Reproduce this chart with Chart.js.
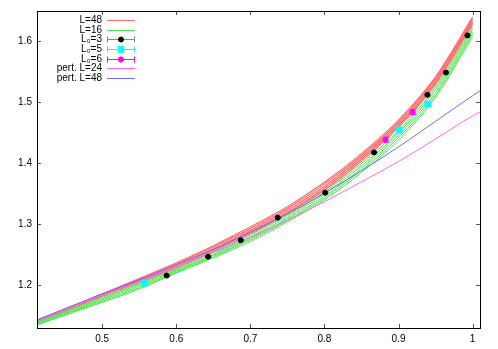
<!DOCTYPE html>
<html><head><meta charset="utf-8">
<script src="https://cdn.jsdelivr.net/npm/chart.js@4.4.1/dist/chart.umd.min.js"></script>
<style>html,body{margin:0;padding:0;background:#fff}canvas{display:block}</style>
</head><body>
<canvas id="c" width="498" height="349"></canvas>
<script>
// ---- data ----
const xGrid = [0.412, 0.45, 0.5, 0.55, 0.6, 0.65, 0.7, 0.75, 0.8, 0.85, 0.9, 0.95, 1.0];
// L=48 band (several curves)
const l48a = [1.143, 1.161, 1.186, 1.211, 1.237, 1.265, 1.296, 1.329, 1.369, 1.416, 1.471, 1.542, 1.640];
const l48b = [1.1425, 1.1605, 1.185, 1.2095, 1.235, 1.263, 1.293, 1.326, 1.366, 1.413, 1.468, 1.539, 1.637];
const l48c = [1.142, 1.160, 1.184, 1.208, 1.233, 1.260, 1.290, 1.323, 1.362, 1.410, 1.465, 1.536, 1.634];
const l48d = [1.1415, 1.159, 1.183, 1.2065, 1.231, 1.258, 1.288, 1.320, 1.359, 1.407, 1.462, 1.533, 1.631];
const l48e = [1.141, 1.158, 1.182, 1.205, 1.229, 1.256, 1.285, 1.318, 1.356, 1.404, 1.459, 1.530, 1.628];
// L=16 band (several curves)
const l16a = [1.140, 1.157, 1.180, 1.203, 1.227, 1.254, 1.283, 1.315, 1.353, 1.400, 1.454, 1.525, 1.624];
const l16b = [1.139, 1.1555, 1.178, 1.201, 1.225, 1.251, 1.280, 1.312, 1.350, 1.396, 1.450, 1.521, 1.620];
const l16c = [1.1375, 1.154, 1.176, 1.1985, 1.2235, 1.249, 1.277, 1.309, 1.346, 1.392, 1.446, 1.516, 1.616];
const l16d = [1.136, 1.1525, 1.174, 1.196, 1.2215, 1.247, 1.275, 1.3065, 1.343, 1.3885, 1.442, 1.512, 1.612];
const l16e = [1.135, 1.151, 1.172, 1.194, 1.220, 1.245, 1.272, 1.304, 1.340, 1.385, 1.438, 1.508, 1.608];
const xPert = [0.412, 0.45, 0.5, 0.55, 0.6, 0.65, 0.7, 0.75, 0.8, 0.85, 0.9, 0.95, 1.0, 1.01];
const pert24 = [1.141, 1.160, 1.184, 1.206, 1.230, 1.254, 1.279, 1.307, 1.337, 1.370, 1.403, 1.440, 1.478, 1.4844];
const pert48 = [1.143, 1.162, 1.186, 1.209, 1.234, 1.259, 1.287, 1.317, 1.351, 1.388, 1.427, 1.469, 1.511, 1.519];
const l03X = [0.587, 0.643, 0.687, 0.737, 0.801, 0.867, 0.939, 0.964, 0.993];
const l03Y = [1.216, 1.247, 1.274, 1.311, 1.352, 1.418, 1.5125, 1.549, 1.610];
const l03E = [0.001, 0.001, 0.001, 0.001, 0.001, 0.001, 0.001, 0.001, 0.001];
const l05X = [0.5567, 0.901, 0.9395];
const l05Y = [1.2035, 1.455, 1.497];
const l05E = [0.003, 0.002, 0.002];
const l06X = [0.8825, 0.919];
const l06Y = [1.439, 1.484];
const l06E = [0.004, 0.004];
const xTicks = [0.5, 0.6, 0.7, 0.8, 0.9, 1];
const yTicks = [1.2, 1.3, 1.4, 1.5, 1.6];
const xMin = 0.412, xMax = 1.01, yMin = 1.13, yMax = 1.65;

const RED = '#ff6a6a', GREEN = '#4be44b', PINK = '#ff66ff', BLUE = '#6a6aff';
const FONT = '"Liberation Sans", Arial, sans-serif';

const pts = (xs, ys) => xs.map((x, i) => ({x: x, y: ys[i]}));
const lineDs = (label, xs, ys, color, order, w) => ({
  type: 'line', label: label, data: pts(xs, ys), borderColor: color, borderWidth: w || 1,
  pointRadius: 0, fill: false, cubicInterpolationMode: 'monotone', order: order
});
const ptDs = (label, xs, ys, errs, color, style, radius, errColor) => ({
  type: 'scatter', label: label, data: pts(xs, ys), errs: errs, errColor: errColor,
  backgroundColor: color, borderColor: color, pointStyle: style, pointRadius: radius,
  borderWidth: style === 'star' ? 2 : 1, order: 1, showLine: false
});

const datasets = [
  lineDs('L=48', xGrid, l48a, RED, 10, 1.2),
  lineDs('L=48', xGrid, l48b, RED, 10, 1.2),
  lineDs('L=48', xGrid, l48c, RED, 10, 1.2),
  lineDs('L=48', xGrid, l48d, RED, 10, 1.2),
  lineDs('L=48', xGrid, l48e, RED, 10, 1.2),
  lineDs('L=16', xGrid, l16a, GREEN, 9),
  lineDs('L=16', xGrid, l16b, GREEN, 9),
  lineDs('L=16', xGrid, l16c, GREEN, 9),
  lineDs('L=16', xGrid, l16d, GREEN, 9),
  lineDs('L=16', xGrid, l16e, GREEN, 9),
  ptDs('L₀=3', l03X, l03Y, l03E, '#000', 'circle', 2.5, '#888'),
  ptDs('L₀=5', l05X, l05Y, l05E, '#00ffff', 'rect', 4, '#00ffff'),
  ptDs('L₀=6', l06X, l06Y, l06E, '#ff00ff', 'star', 3, '#ff00ff'),
  lineDs('pert. L=24', xPert, pert24, PINK, 5),
  lineDs('pert. L=48', xPert, pert48, BLUE, 5)
];

const legendItems = [
  {t: 'L=48', kind: 'line', c: RED},
  {t: 'L=16', kind: 'line', c: GREEN},
  {t: 'L₀=3', kind: 'pt', c: '#000', e: '#888', s: 'circle', r: 2.5},
  {t: 'L₀=5', kind: 'pt', c: '#00ffff', e: '#00ffff', s: 'rect', r: 4},
  {t: 'L₀=6', kind: 'pt', c: '#ff00ff', e: '#ff00ff', s: 'star', r: 3},
  {t: 'pert. L=24', kind: 'line', c: PINK},
  {t: 'pert. L=48', kind: 'line', c: BLUE}
];

const errPlugin = {
  id: 'errbars',
  beforeDatasetDraw(chart, args) {
    const ds = chart.data.datasets[args.index];
    if (!ds.errs) return;
    const ctx = chart.ctx, xs = chart.scales.x, ys = chart.scales.y;
    ctx.save();
    ctx.strokeStyle = ds.errColor; ctx.lineWidth = 1;
    ds.data.forEach((p, i) => {
      const px = Math.round(xs.getPixelForValue(p.x)) + 0.5;
      const y1 = ys.getPixelForValue(p.y - ds.errs[i]);
      const y2 = ys.getPixelForValue(p.y + ds.errs[i]);
      ctx.beginPath();
      ctx.moveTo(px, y1); ctx.lineTo(px, y2);
      ctx.moveTo(px - 3, y1); ctx.lineTo(px + 3, y1);
      ctx.moveTo(px - 3, y2); ctx.lineTo(px + 3, y2);
      ctx.stroke();
    });
    ctx.restore();
  }
};

const framePlugin = {
  id: 'frame',
  afterDraw(chart) {
    const ctx = chart.ctx, a = chart.chartArea, xs = chart.scales.x, ys = chart.scales.y;
    ctx.save();
    ctx.strokeStyle = '#555'; ctx.lineWidth = 1;
    ctx.beginPath();
    xTicks.forEach(v => {
      const px = Math.round(xs.getPixelForValue(v)) + 0.5;
      ctx.moveTo(px, a.bottom); ctx.lineTo(px, a.bottom - 4);
      ctx.moveTo(px, a.top); ctx.lineTo(px, a.top + 4);
    });
    yTicks.forEach(v => {
      const py = Math.round(ys.getPixelForValue(v)) + 0.5;
      ctx.moveTo(a.left, py); ctx.lineTo(a.left + 4, py);
      ctx.moveTo(a.right, py); ctx.lineTo(a.right - 4, py);
    });
    ctx.stroke();
    ctx.strokeStyle = '#000'; ctx.lineWidth = 1;
    ctx.strokeRect(Math.round(a.left) + 0.5, Math.round(a.top) + 0.5,
                   Math.round(a.right - a.left), Math.round(a.bottom - a.top));
    ctx.font = '10px ' + FONT;
    ctx.textAlign = 'right'; ctx.textBaseline = 'middle';
    legendItems.forEach((it, i) => {
      const y = Math.round(20 + i * 9.65) + 0.5;
      ctx.fillStyle = '#000';
      ctx.fillText(it.t, 102, y);
      if (it.kind === 'line') {
        ctx.strokeStyle = it.c; ctx.lineWidth = 1;
        ctx.beginPath(); ctx.moveTo(107, y); ctx.lineTo(135, y); ctx.stroke();
      } else {
        ctx.strokeStyle = it.e; ctx.lineWidth = 1;
        ctx.beginPath();
        ctx.moveTo(107, y); ctx.lineTo(135, y);
        ctx.moveTo(107.5, y - 3); ctx.lineTo(107.5, y + 3);
        ctx.moveTo(134.5, y - 3); ctx.lineTo(134.5, y + 3);
        ctx.stroke();
        ctx.fillStyle = it.c; ctx.strokeStyle = it.c;
        ctx.lineWidth = it.s === 'star' ? 2 : 1;
        Chart.helpers.drawPoint(ctx, {pointStyle: it.s, radius: it.r, borderWidth: ctx.lineWidth}, 121, y);
      }
    });
    ctx.restore();
  }
};

new Chart(document.getElementById('c'), {
  type: 'scatter',
  data: {datasets: datasets},
  options: {
    responsive: false, animation: false, devicePixelRatio: 1,
    layout: {padding: {top: 11, right: 18, left: 0, bottom: 0}},
    plugins: {legend: {display: false}, tooltip: {enabled: false}},
    scales: {
      x: {
        type: 'linear', min: xMin, max: xMax,
        afterFit(s) { s.height = 21; },
        afterBuildTicks(s) { s.ticks = xTicks.map(v => ({value: v})); },
        grid: {display: false, drawTicks: false},
        border: {display: false},
        ticks: {padding: 5, color: '#000', font: {family: FONT, size: 10},
                callback: v => String(v), maxRotation: 0, autoSkip: false}
      },
      y: {
        type: 'linear', min: yMin, max: yMax,
        afterFit(s) { s.width = 37; },
        afterBuildTicks(s) { s.ticks = yTicks.map(v => ({value: v})); },
        grid: {display: false, drawTicks: false},
        border: {display: false},
        ticks: {padding: 5, color: '#000', font: {family: FONT, size: 10},
                callback: v => v.toFixed(1), autoSkip: false}
      }
    }
  },
  plugins: [errPlugin, framePlugin]
});
</script>
</body></html>
